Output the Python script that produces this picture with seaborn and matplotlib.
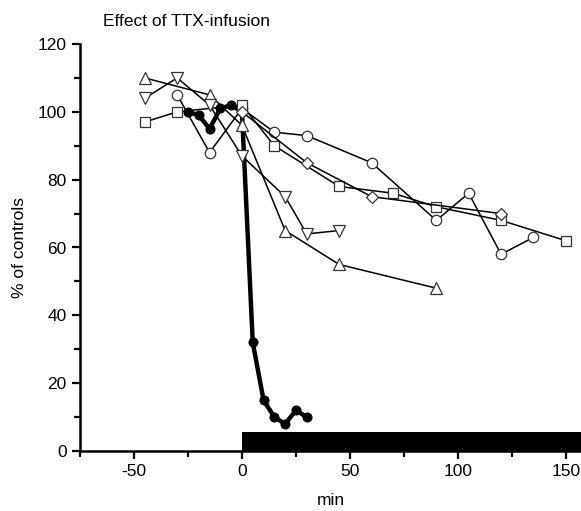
import matplotlib
matplotlib.use("Agg")
import matplotlib.pyplot as plt
import seaborn as sns
from matplotlib.ticker import MultipleLocator

# time (min) and % of controls for each experiment
filled_x = [-25, -20, -15, -10, -5, 0, 5, 10, 15, 20, 25, 30]
filled_y = [100, 99, 95, 101, 102, 100, 32, 15, 10, 8, 12, 10]

circle_x = [-30, -15, 0, 15, 30, 60, 90, 105, 120, 135]
circle_y = [105, 88, 101, 94, 93, 85, 68, 76, 58, 63]

square_x = [-45, -30, 0, 15, 45, 70, 90, 120, 150]
square_y = [97, 100, 102, 90, 78, 76, 72, 68, 62]

diamond_x = [0, 30, 60, 120]
diamond_y = [100, 85, 75, 70]

tri_up_x = [-45, -15, 0, 20, 45, 90]
tri_up_y = [110, 105, 96, 65, 55, 48]

tri_down_x = [-45, -30, -15, 0, 20, 30, 45]
tri_down_y = [104, 110, 102, 87, 75, 64, 65]

# TTX infusion period bar
ttx_start, ttx_end, ttx_height = 0, 160, 5.5

sns.set_style("ticks")
plt.rcParams['font.family'] = ['Liberation Sans', 'DejaVu Sans']
plt.rcParams['axes.unicode_minus'] = False
plt.rcParams['text.color'] = 'black'
plt.rcParams['axes.labelcolor'] = 'black'
plt.rcParams['xtick.color'] = 'black'
plt.rcParams['ytick.color'] = 'black'
plt.rcParams['axes.edgecolor'] = 'black'

fig = plt.figure(figsize=(5.81, 5.11), dpi=100)
ax = fig.add_axes([80 / 581, 1 - 451 / 511, 1 - 80 / 581, (451 - 44) / 511])

ax.fill_between([ttx_start, ttx_end], 0, ttx_height, color='black', lw=0, zorder=1)

sns.lineplot(x=filled_x, y=filled_y, sort=False, estimator=None, ax=ax,
             color='black', lw=3.2, marker='o', markersize=6.5,
             markerfacecolor='black', markeredgecolor='black', zorder=2)

open_series = [
    (circle_x, circle_y, 'o', 7.5),
    (square_x, square_y, 's', 7),
    (diamond_x, diamond_y, 'D', 6.5),
    (tri_up_x, tri_up_y, '^', 8),
    (tri_down_x, tri_down_y, 'v', 8),
]
for xs, ys, m, ms in open_series:
    sns.lineplot(x=xs, y=ys, sort=False, estimator=None, ax=ax,
                 color='black', lw=1.1, marker=m, markersize=ms,
                 markerfacecolor='white', markeredgecolor='#333333',
                 markeredgewidth=0.9, zorder=3)

ax.set_xlim(-75, 157)
ax.set_ylim(0, 120)
ax.xaxis.set_major_locator(MultipleLocator(50))
ax.xaxis.set_minor_locator(MultipleLocator(25))
ax.yaxis.set_major_locator(MultipleLocator(20))
ax.yaxis.set_minor_locator(MultipleLocator(10))
ax.tick_params(which='major', length=6, width=1.6, labelsize=12.5, direction='out')
ax.tick_params(which='minor', length=4, width=1.6, direction='out')

for side in ['top', 'right']:
    ax.spines[side].set_visible(False)
for side in ['left', 'bottom']:
    ax.spines[side].set_linewidth(1.8)

ax.set_xlabel('min', fontsize=12.5, labelpad=10)
ax.set_ylabel('% of controls', fontsize=12.5, labelpad=8)
fig.text(103 / 581, 1 - 22 / 511, 'Effect of TTX-infusion', fontsize=12.5, va='center')

plt.savefig('out.png', dpi=100)
